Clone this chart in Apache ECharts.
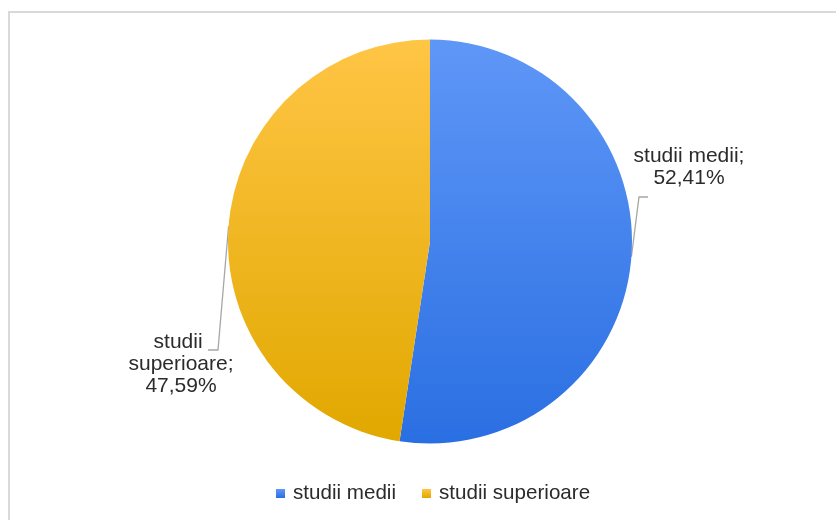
<!DOCTYPE html>
<html>
<head>
<meta charset="utf-8">
<script src="https://cdn.jsdelivr.net/npm/echarts@6/dist/echarts.min.js"></script>
<style>
  html, body { margin: 0; padding: 0; background: #ffffff; }
  #chart { width: 836px; height: 520px; }
</style>
</head>
<body>
<div id="chart"></div>
<script>
// Education level split
const categories = ['studii medii', 'studii superioare'];
const shares = [52.41, 47.59];

const sliceColors = [
  ['#5f97f7', '#2a6fe2'],
  ['#ffc545', '#e1a800']
];

// Label placement per slice: text box anchor and leader-line bend/end
const labelPlacement = [
  { x: 689, y: 145, bend: [639, 197], end: [648, 197] },
  { x: 181, y: 331, bend: [218, 350], end: [208, 350] }
];

const chart = echarts.init(document.getElementById('chart'), null, { renderer: 'canvas' });

const fontFamily = '"Liberation Sans", Arial, sans-serif';
const textColor = '#2b2b2b';

const option = {
  backgroundColor: '#ffffff',
  animation: false,
  graphic: [{
    type: 'rect',
    silent: true,
    shape: { x: 9, y: 12, width: 900, height: 600 },
    style: { fill: 'none', stroke: '#d9d9d9', lineWidth: 2 }
  }],
  legend: {
    data: categories,
    left: 271,
    top: 478,
    icon: 'rect',
    itemWidth: 9,
    itemHeight: 9,
    itemGap: 26,
    textStyle: {
      fontFamily: fontFamily,
      fontSize: 20.6,
      color: textColor,
      padding: [0, 0, 0, 3]
    }
  },
  series: [{
    type: 'pie',
    center: [430, 241.5],
    radius: 202,
    startAngle: 90,
    clockwise: true,
    avoidLabelOverlap: false,
    label: {
      show: true,
      position: 'outside',
      fontFamily: fontFamily,
      fontSize: 21,
      lineHeight: 22,
      color: textColor,
      align: 'center',
      formatter: function (p) {
        return p.name + ';\n' + p.percent.toFixed(2).replace('.', ',') + '%';
      }
    },
    labelLine: {
      show: true,
      length: 10,
      length2: 10,
      lineStyle: { color: '#a6a6a6', width: 1.3 }
    },
    labelLayout: function (params) {
      const pl = labelPlacement[params.dataIndex];
      const start = params.labelLinePoints ? params.labelLinePoints[0] : pl.bend;
      return {
        x: pl.x,
        y: pl.y,
        align: 'center',
        verticalAlign: 'top',
        labelLinePoints: [start, pl.bend, pl.end]
      };
    },
    data: categories.map(function (name, i) {
      const item = {
        name: name,
        value: shares[i],
        itemStyle: {
          color: new echarts.graphic.LinearGradient(0, 0, 0, 1, [
            { offset: 0, color: sliceColors[i][0] },
            { offset: 1, color: sliceColors[i][1] }
          ])
        }
      };
      if (i === 1) {
        item.label = { width: 120, overflow: 'break' };
      }
      return item;
    })
  }]
};

chart.setOption(option);
</script>
</body>
</html>
